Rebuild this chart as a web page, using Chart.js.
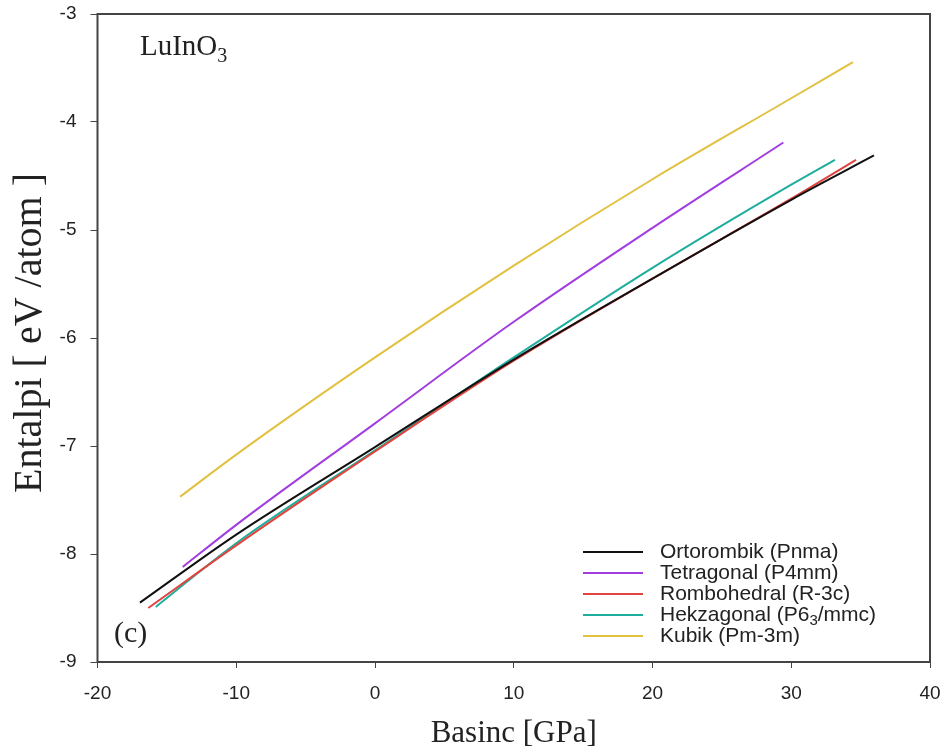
<!DOCTYPE html>
<html>
<head>
<meta charset="utf-8">
<script src="https://cdn.jsdelivr.net/npm/chart.js@4/dist/chart.umd.min.js"></script>
<style>
html,body{margin:0;padding:0;background:#fff;}
#wrap{width:950px;height:754px;}
</style>
</head>
<body>
<div id="wrap"><canvas id="c" width="950" height="754"></canvas></div>
<script>
// ---- data ----
const seriesNames = ["Ortorombik (Pnma)", "Tetragonal (P4mm)", "Rombohedral (R-3c)", "Hekzagonal (P6_3/mmc)", "Kubik (Pm-3m)"];
const ortoX = [-16.94, -10, 0, 10, 20, 30, 35.96];
const ortoY = [-8.45, -7.82, -7.01, -6.20, -5.45, -4.72, -4.31];
const tetraX = [-13.86, -10, 0, 10, 20, 29.43];
const tetraY = [-8.12, -7.73, -6.79, -5.85, -4.98, -4.19];
const rhombX = [-16.34, -10, 0, 10, 20, 30, 34.67];
const rhombY = [-8.50, -7.92, -7.05, -6.21, -5.45, -4.71, -4.35];
const hexX = [-15.8, -10, 0, 10, 20, 30, 33.15];
const hexY = [-8.49, -7.90, -7.04, -6.18, -5.35, -4.58, -4.35];
const kubX = [-14.05, -10, 0, 10, 20, 30, 34.45];
const kubY = [-7.47, -7.08, -6.18, -5.33, -4.53, -3.78, -3.445];
const xTickVals = [-20, -10, 0, 10, 20, 30, 40];
const yTickVals = [-9, -8, -7, -6, -5, -4, -3];
const xTitle = 'Basinc [GPa]';
const yTitle = 'Entalpi [ eV /atom ]';
const colors = ["#111111", "#a23ee0", "#e0443e", "#1fae9e", "#e2c040"];

function pts(xs, ys){ return xs.map((x,i)=>({x:x, y:ys[i]})); }
const allX = [ortoX, tetraX, rhombX, hexX, kubX];
const allY = [ortoY, tetraY, rhombY, hexY, kubY];

const datasets = seriesNames.map((n,i)=>({
  label: n,
  data: pts(allX[i], allY[i]),
  borderColor: colors[i],
  backgroundColor: colors[i],
  borderWidth: 2,
  pointRadius: 0,
  showLine: true,
  cubicInterpolationMode: 'monotone',
  fill: false,
  order: i
}));

function drawSubText(ctx, parts, x, y, font, subFont, subDy){
  let cx = x;
  parts.forEach(p=>{
    ctx.font = p[1] ? subFont : font;
    ctx.fillText(p[0], cx, y + (p[1] ? subDy : 0));
    cx += ctx.measureText(p[0]).width;
  });
}
function parseSub(s){
  const out = [];
  const re = /_(\d)/g; let last = 0, m;
  while((m = re.exec(s))){ if(m.index>last) out.push([s.slice(last,m.index), false]); out.push([m[1], true]); last = m.index+2; }
  if(last < s.length) out.push([s.slice(last), false]);
  return out;
}

const framePlugin = {
  id: 'frame',
  afterDraw(chart){
    const {ctx, chartArea:a} = chart;
    ctx.save();
    ctx.strokeStyle = '#444';
    ctx.lineWidth = 2;
    ctx.strokeRect(a.left, a.top, a.right-a.left, a.bottom-a.top);
    ctx.fillStyle = '#222';
    ctx.textBaseline = 'alphabetic';
    drawSubText(ctx, [["LuInO",false],["3",true]], 140, 55, '29px "Liberation Serif"', '20px "Liberation Serif"', 7);
    ctx.font = '30px "Liberation Serif"';
    ctx.fillText('(c)', 114, 642);
    // y axis title
    ctx.save();
    ctx.translate(30, 333);
    ctx.rotate(-Math.PI/2);
    ctx.textAlign = 'center'; ctx.textBaseline = 'middle';
    ctx.font = '40px "Liberation Serif"';
    ctx.fillText(yTitle, 0, 0);
    ctx.restore();
    // legend
    const lx0 = 583, lx1 = 643, tx = 660, y0 = 552, dy = 21;
    chart.data.datasets.forEach((ds,i)=>{
      const yy = y0 + i*dy;
      ctx.strokeStyle = ds.borderColor; ctx.lineWidth = 2;
      ctx.beginPath(); ctx.moveTo(lx0, yy); ctx.lineTo(lx1, yy); ctx.stroke();
      ctx.fillStyle = '#222'; ctx.textBaseline = 'middle'; ctx.textAlign = 'left';
      drawSubText(ctx, parseSub(ds.label), tx, yy, '21px "Liberation Sans"', '15px "Liberation Sans"', 6);
    });
    ctx.restore();
  }
};

new Chart(document.getElementById('c'), {
  type: 'scatter',
  data: { datasets },
  options: {
    responsive: false,
    animation: false,
    layout: { padding: { top: 14, right: 20, left: 0, bottom: 0 } },
    plugins: { legend: { display: false }, tooltip: { enabled: false } },
    scales: {
      x: {
        type: 'linear', min: -20, max: 40,
        afterBuildTicks: s => { s.ticks = xTickVals.map(v=>({value:v})); },
        afterFit: s => { s.height = 92; s.paddingLeft = 0; s.paddingRight = 0; },
        grid: { drawOnChartArea: false, drawTicks: true, tickLength: 6, tickColor: '#444', lineWidth: 1 },
        border: { display: false },
        ticks: { color: '#222', font: { family: '"Liberation Sans"', size: 19 }, padding: 14, maxRotation: 0 },
        title: { display: true, text: xTitle, color: '#222', font: { family: '"Liberation Serif"', size: 31 }, padding: { top: 0, bottom: 2 } }
      },
      y: {
        type: 'linear', min: -9, max: -3,
        afterBuildTicks: s => { s.ticks = yTickVals.map(v=>({value:v})); },
        afterFit: s => { s.width = 97.5; s.paddingTop = 0; s.paddingBottom = 0; },
        grid: { drawOnChartArea: false, drawTicks: true, tickLength: 7, tickColor: '#444', lineWidth: 1 },
        border: { display: false },
        ticks: { color: '#222', font: { family: '"Liberation Sans"', size: 19 }, padding: 14 },
        title: { display: false }
      }
    }
  },
  plugins: [framePlugin]
});
</script>
</body>
</html>
